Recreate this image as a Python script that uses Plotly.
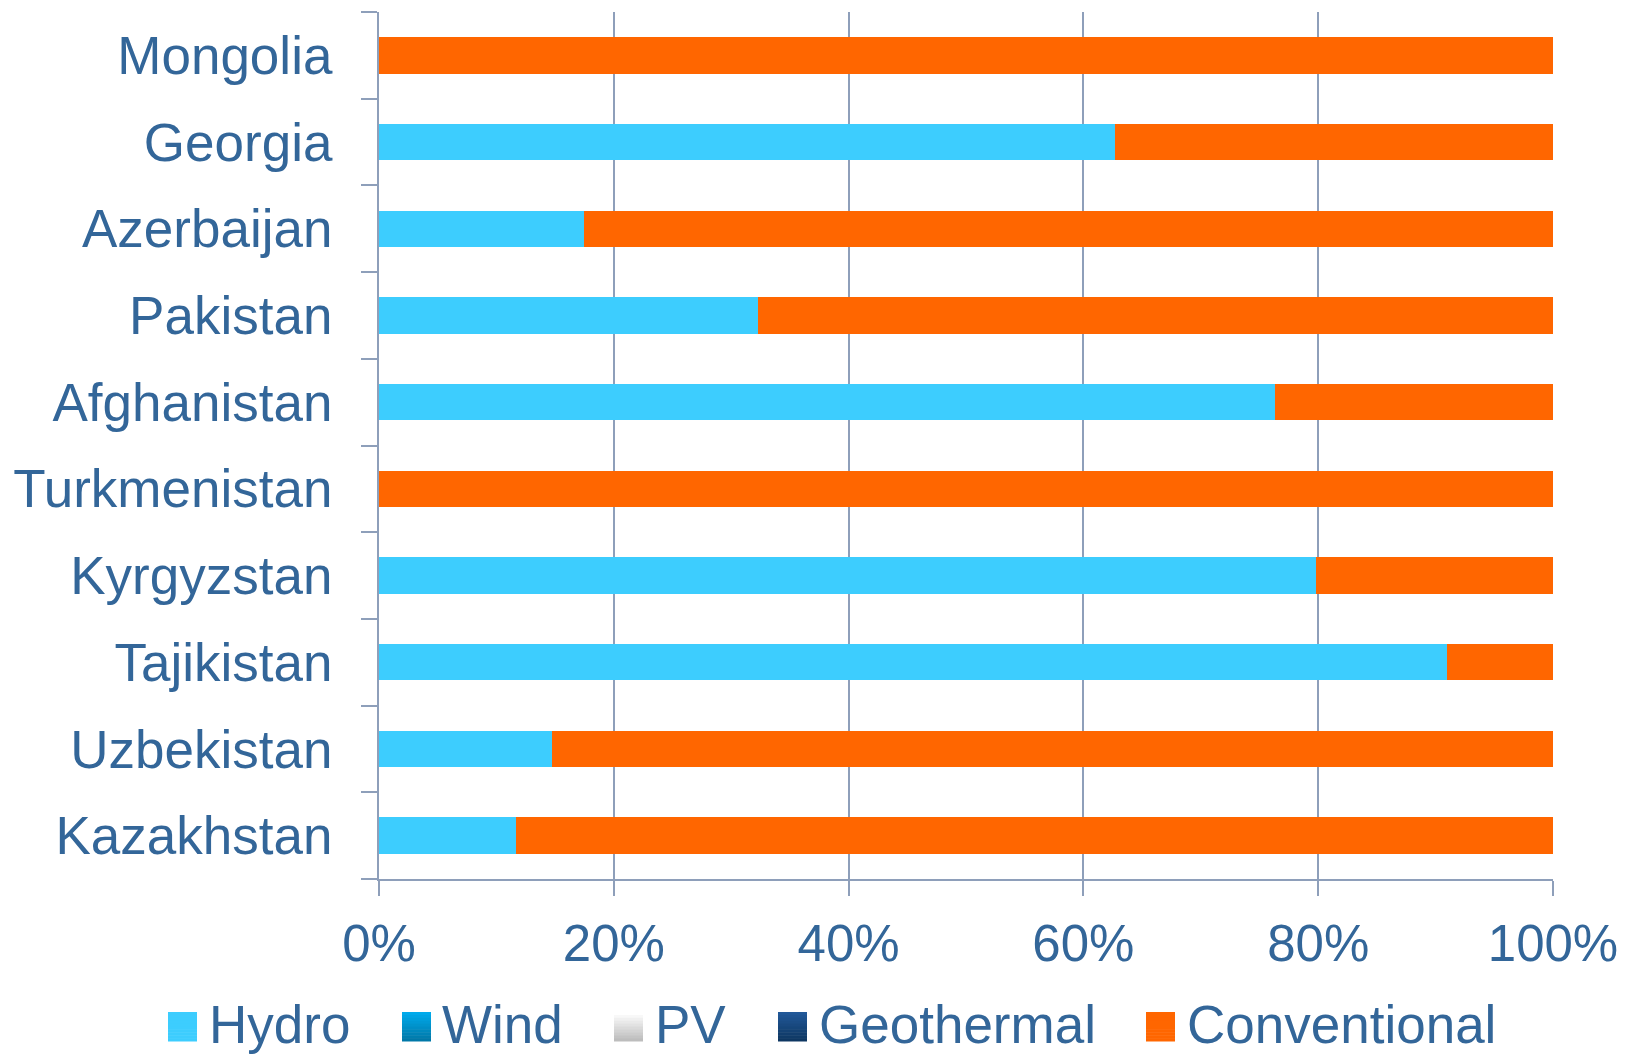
import plotly.graph_objects as go

# ---- data ----
countries = ["Kazakhstan", "Uzbekistan", "Tajikistan", "Kyrgyzstan", "Turkmenistan",
             "Afghanistan", "Pakistan", "Azerbaijan", "Georgia", "Mongolia"]
hydro = [11.7, 14.7, 91.0, 79.8, 0.0, 76.3, 32.3, 17.5, 62.7, 0.0]
wind = [0, 0, 0, 0, 0, 0, 0, 0, 0, 0]
pv = [0, 0, 0, 0, 0, 0, 0, 0, 0, 0]
geothermal = [0, 0, 0, 0, 0, 0, 0, 0, 0, 0]
conventional = [88.3, 85.3, 9.0, 20.2, 100.0, 23.7, 67.7, 82.5, 37.3, 100.0]
x_ticks = [0, 20, 40, 60, 80, 100]
x_ticktext = ["0%", "20%", "40%", "60%", "80%", "100%"]

series = [
    ("Hydro", hydro, "#3dcdfe"),
    ("Wind", wind, "#0096d0"),
    ("PV", pv, "#e0e0e0"),
    ("Geothermal", geothermal, "#17447a"),
    ("Conventional", conventional, "#ff6600"),
]

# ---- layout constants ----
W, H = 1639, 1057
ML, MR, MT, MB = 379, 86, 12, 178
PW, PH = W - ML - MR, H - MT - MB
TXT = "#336699"
AX = "#8e9fba"
FONT = "Liberation Sans, Arial, sans-serif"


def px2x(px):
    return (px - ML) / PW


def px2y(py):
    return (H - MB - py) / PH


fig = go.Figure()
for name, vals, col in series:
    fig.add_trace(go.Bar(
        y=countries, x=vals, name=name, orientation="h",
        marker=dict(color=col, line=dict(width=0)), showlegend=False,
    ))

# ---- manual legend (large square swatches) ----
legend_items = [
    ("Hydro", ["#3dcdfe", "#3dcdfe"], 168, 207),
    ("Wind", ["#00aaeb", "#0078a8"], 402, 440),
    ("PV", ["#ffffff", "#bdbdbd"], 614, 653),
    ("Geothermal", ["#215898", "#0e3762"], 778, 817),
    ("Conventional", ["#ff6600", "#ff6600"], 1146, 1185),
]
shapes = []
annotations = []
SQ = 29
sq_top, sq_bot = 1012, 1041
NSTRIP = 10


def lerp(c1, c2, t):
    a = [int(c1[i:i + 2], 16) for i in (1, 3, 5)]
    b = [int(c2[i:i + 2], 16) for i in (1, 3, 5)]
    return "#%02x%02x%02x" % tuple(round(a[k] + (b[k] - a[k]) * t) for k in range(3))


for name, (c1, c2), sx, tx in legend_items:
    for i in range(NSTRIP):
        y0 = sq_top + (sq_bot - sq_top) * i / NSTRIP
        y1 = sq_top + (sq_bot - sq_top) * (i + 1) / NSTRIP
        shapes.append(dict(
            type="rect", xref="paper", yref="paper",
            x0=px2x(sx), x1=px2x(sx + SQ), y0=px2y(y1 + 0.5), y1=px2y(y0),
            fillcolor=lerp(c1, c2, i / (NSTRIP - 1)), line=dict(width=0), layer="above",
        ))
    annotations.append(dict(
        text=name, xref="paper", yref="paper", x=px2x(tx), y=px2y(1024),
        xanchor="left", yanchor="middle", showarrow=False,
        font=dict(family=FONT, size=53, color=TXT),
    ))

fig.update_layout(
    width=W, height=H,
    margin=dict(l=ML, r=MR, t=MT, b=MB, autoexpand=False),
    paper_bgcolor="white", plot_bgcolor="white",
    barmode="stack", bargap=0.58,
    font=dict(family=FONT, color=TXT),
    shapes=shapes, annotations=annotations,
    xaxis=dict(
        range=[0, 100], tickvals=x_ticks, ticktext=x_ticktext,
        showgrid=True, gridcolor=AX, gridwidth=2,
        showline=True, linecolor=AX, linewidth=2,
        ticks="outside", ticklen=15, tickwidth=2, tickcolor=AX,
        tickfont=dict(family=FONT, size=51, color=TXT),
        ticklabelstandoff=4, zeroline=False, fixedrange=True,
    ),
    yaxis=dict(
        type="category", categoryorder="array", categoryarray=countries,
        showgrid=False, showline=True, linecolor=AX, linewidth=2,
        ticks="outside", ticklen=16, tickwidth=2, tickcolor=AX,
        tickson="boundaries",
        tickfont=dict(family=FONT, size=53, color=TXT),
        ticklabelstandoff=34, fixedrange=True,
    ),
)

fig.write_html("out.html")
